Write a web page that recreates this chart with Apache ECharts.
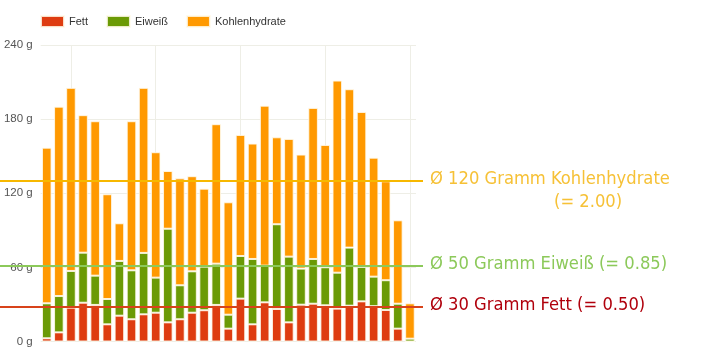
<!DOCTYPE html>
<html>
<head>
<meta charset="utf-8">
<script src="https://cdn.jsdelivr.net/npm/echarts@6/dist/echarts.min.js"></script>
<style>
html,body{margin:0;padding:0;background:#fff;}
#chart{width:706px;height:349px;}
</style>
</head>
<body>
<div id="chart"></div>
<script>
const categories = ['1','2','3','4','5','6','7','8','9','10','11','12','13','14','15','16','17','18','19','20','21','22','23','24','25','26','27','28','29','30','31'];
const fett = [2.6, 7.4, 27.4, 31.4, 29.6, 13.9, 20.9, 18.0, 22.0, 23.3, 15.5, 18.0, 23.3, 25.3, 29.6, 10.4, 34.7, 13.9, 31.7, 26.3, 15.5, 29.8, 30.6, 29.3, 26.6, 29.0, 32.5, 28.6, 25.5, 10.4, 0];
const eiweiss = [28.3, 29.4, 29.7, 40.5, 23.7, 20.5, 44.3, 39.6, 49.7, 28.4, 75.8, 27.5, 33.5, 35.3, 33.4, 11.3, 34.5, 52.9, 29.7, 68.6, 53.2, 29.2, 36.2, 30.8, 29.1, 47.0, 27.9, 23.9, 24.1, 20.2, 2.3];
const kohlenhydrate = [126.0, 153.3, 148.2, 111.3, 125.0, 84.8, 30.5, 120.7, 133.6, 101.5, 46.7, 86.6, 77.0, 63.1, 112.9, 91.0, 98.0, 93.4, 129.5, 70.4, 95.3, 92.3, 122.3, 99.0, 155.5, 128.2, 125.4, 96.3, 80.1, 67.5, 28.6];
const yTicks = [0, 60, 120, 180, 240];
const seriesNames = ['Fett', 'Eiweiß', 'Kohlenhydrate'];
const avgLines = [
  {value: 130, text: 'Ø 120 Gramm Kohlenhydrate', sub: '(= 2.00)'},
  {value: 61.5, text: 'Ø 50 Gramm Eiweiß (= 0.85)'},
  {value: 28.3, text: 'Ø 30 Gramm Fett (= 0.50)'}
];
const weekMarkIndexStart = 2;

const colors = ['#DE3C10', '#6B9A05', '#FF9900'];
const lineColors = ['#F7B800', '#8CC95A', '#D8431A'];
const labelColors = ['#F6C136', '#8CC95A', '#B0000C'];
const annoFont = "'DejaVu Sans Condensed', 'DejaVu Sans', sans-serif";
const annoSize = 18.2;

function avgMarkLine(idx) {
  const a = avgLines[idx];
  const rich = {
    a: {color: labelColors[idx], fontSize: annoSize, fontFamily: annoFont, lineHeight: 23},
    b: {color: labelColors[idx], fontSize: annoSize, fontFamily: annoFont, lineHeight: 23, padding: [0, 0, 0, 124]},
    e: {fontSize: annoSize, lineHeight: 23}
  };
  const fmt = a.sub ? '{e| }\n{a|' + a.text + '}\n{b|' + a.sub + '}' : '{a|' + a.text + '}';
  return [
    {x: 0, yAxis: a.value, lineStyle: {color: lineColors[idx], width: 2, type: 'solid'},
     label: {show: true, position: 'end', distance: 7, formatter: fmt, rich: rich, padding: [0, 0, 3, 0]}},
    {x: 423, yAxis: a.value}
  ];
}

const chart = echarts.init(document.getElementById('chart'), null, {renderer: 'canvas'});
const barItem = (c) => ({color: c, borderColor: 'rgba(255,250,235,0.85)', borderWidth: 1});

chart.setOption({
  animation: false,
  color: colors,
  legend: {
    left: 40, top: 15, padding: 0, icon: 'rect', itemWidth: 23, itemHeight: 11, itemGap: 18,
    textStyle: {fontFamily: "'Liberation Sans', Arial, sans-serif", fontSize: 11, color: '#333'},
    data: seriesNames
  },
  grid: {left: 40.7, right: 290, top: 45, bottom: 7.5},
  xAxis: {
    type: 'category', data: categories,
    axisLine: {show: false}, axisTick: {show: false}, axisLabel: {show: false},
    splitLine: {show: true, alignWithLabel: true, interval: (i) => (i - weekMarkIndexStart) % 7 === 0,
      lineStyle: {color: '#eeeee6', width: 1}}
  },
  yAxis: {
    type: 'value', min: 0, max: yTicks[yTicks.length - 1], interval: yTicks[1] - yTicks[0],
    axisLine: {show: false}, axisTick: {show: false},
    axisLabel: {formatter: '{value} g', color: '#555', fontSize: 11.5, margin: 8,
      fontFamily: "'Liberation Sans', Arial, sans-serif"},
    splitLine: {lineStyle: {color: '#eeeee6', width: 1}}
  },
  series: [
    {name: seriesNames[0], type: 'bar', stack: 'n', data: fett, barCategoryGap: '21%', itemStyle: barItem(colors[0]),
     markLine: {silent: true, symbol: 'none', animation: false,
       data: [avgMarkLine(0), avgMarkLine(1), avgMarkLine(2)]}},
    {name: seriesNames[1], type: 'bar', stack: 'n', data: eiweiss, barCategoryGap: '21%', itemStyle: barItem(colors[1])},
    {name: seriesNames[2], type: 'bar', stack: 'n', data: kohlenhydrate, barCategoryGap: '21%', itemStyle: barItem(colors[2])}
  ]
});
</script>
</body>
</html>
